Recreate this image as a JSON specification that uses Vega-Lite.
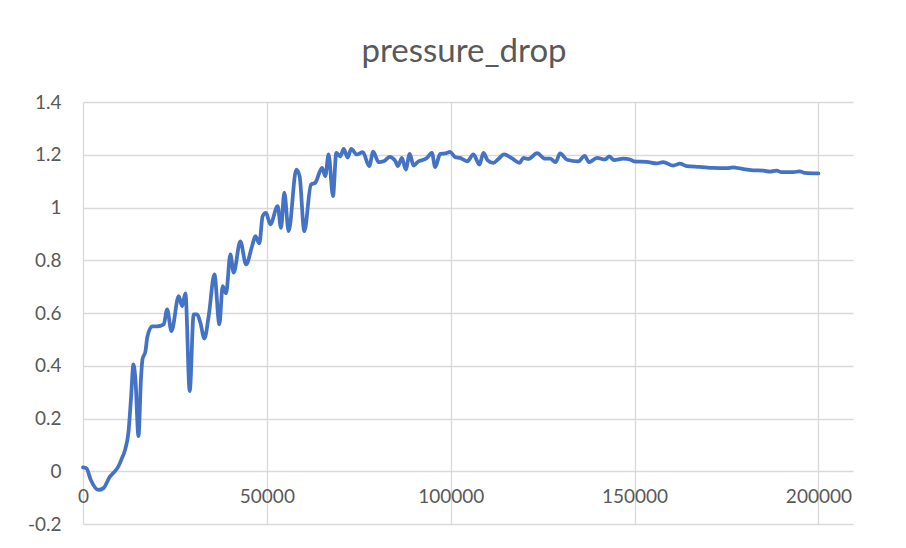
{
  "$schema": "https://vega.github.io/schema/vega-lite/v6.json",
  "width": 770,
  "height": 422,
  "autosize": {"type": "none"},
  "padding": {"left": 83, "top": 102, "right": 53, "bottom": 24},
  "background": "#ffffff",
  "title": {
    "text": "pressure_drop",
    "font": "Lato",
    "fontSize": 33,
    "fontWeight": "normal",
    "color": "#595959",
    "anchor": "middle",
    "frame": "group",
    "baseline": "alphabetic",
    "offset": -2,
    "dx": -4
  },
  "config": {
    "view": {"stroke": null},
    "axis": {
      "labelFont": "Lato",
      "labelFontSize": 19,
      "labelColor": "#595959",
      "gridColor": "#D9D9D9",
      "gridWidth": 1.3,
      "ticks": false,
      "domain": false,
      "title": null
    }
  },
  "data": {
    "values": [
      {"step": 0, "pressure_drop": 0.015},
      {"step": 950, "pressure_drop": 0.011},
      {"step": 2040, "pressure_drop": -0.03},
      {"step": 4210, "pressure_drop": -0.071},
      {"step": 5570, "pressure_drop": -0.064},
      {"step": 7390, "pressure_drop": -0.019},
      {"step": 8290, "pressure_drop": -0.006},
      {"step": 9650, "pressure_drop": 0.019},
      {"step": 10460, "pressure_drop": 0.045},
      {"step": 11470, "pressure_drop": 0.083},
      {"step": 12360, "pressure_drop": 0.148},
      {"step": 13040, "pressure_drop": 0.273},
      {"step": 13720, "pressure_drop": 0.405},
      {"step": 14260, "pressure_drop": 0.348},
      {"step": 15080, "pressure_drop": 0.133},
      {"step": 15760, "pressure_drop": 0.348},
      {"step": 16170, "pressure_drop": 0.424},
      {"step": 16980, "pressure_drop": 0.455},
      {"step": 17520, "pressure_drop": 0.511},
      {"step": 18800, "pressure_drop": 0.549},
      {"step": 20160, "pressure_drop": 0.549},
      {"step": 21950, "pressure_drop": 0.557},
      {"step": 22880, "pressure_drop": 0.614},
      {"step": 24050, "pressure_drop": 0.531},
      {"step": 26030, "pressure_drop": 0.664},
      {"step": 26950, "pressure_drop": 0.626},
      {"step": 27850, "pressure_drop": 0.674},
      {"step": 29020, "pressure_drop": 0.304},
      {"step": 30100, "pressure_drop": 0.595},
      {"step": 31030, "pressure_drop": 0.595},
      {"step": 31920, "pressure_drop": 0.563},
      {"step": 33010, "pressure_drop": 0.503},
      {"step": 34180, "pressure_drop": 0.588},
      {"step": 35730, "pressure_drop": 0.746},
      {"step": 37090, "pressure_drop": 0.557},
      {"step": 37980, "pressure_drop": 0.702},
      {"step": 38910, "pressure_drop": 0.674},
      {"step": 40080, "pressure_drop": 0.822},
      {"step": 40970, "pressure_drop": 0.753},
      {"step": 42790, "pressure_drop": 0.872},
      {"step": 44340, "pressure_drop": 0.784},
      {"step": 45970, "pressure_drop": 0.853},
      {"step": 46870, "pressure_drop": 0.891},
      {"step": 47960, "pressure_drop": 0.864},
      {"step": 48850, "pressure_drop": 0.967},
      {"step": 49780, "pressure_drop": 0.98},
      {"step": 50940, "pressure_drop": 0.936},
      {"step": 52930, "pressure_drop": 1.005},
      {"step": 53850, "pressure_drop": 0.923},
      {"step": 54750, "pressure_drop": 1.056},
      {"step": 55920, "pressure_drop": 0.91},
      {"step": 58010, "pressure_drop": 1.144},
      {"step": 58900, "pressure_drop": 1.119},
      {"step": 60180, "pressure_drop": 0.91},
      {"step": 62000, "pressure_drop": 1.087},
      {"step": 63170, "pressure_drop": 1.094},
      {"step": 64990, "pressure_drop": 1.15},
      {"step": 65890, "pressure_drop": 1.119},
      {"step": 66790, "pressure_drop": 1.201},
      {"step": 67980, "pressure_drop": 1.043},
      {"step": 68880, "pressure_drop": 1.207},
      {"step": 69960, "pressure_drop": 1.194},
      {"step": 70910, "pressure_drop": 1.222},
      {"step": 71950, "pressure_drop": 1.189},
      {"step": 72950, "pressure_drop": 1.222},
      {"step": 74450, "pressure_drop": 1.201},
      {"step": 76080, "pressure_drop": 1.21},
      {"step": 77840, "pressure_drop": 1.157},
      {"step": 78930, "pressure_drop": 1.212},
      {"step": 80370, "pressure_drop": 1.172},
      {"step": 81920, "pressure_drop": 1.176},
      {"step": 83360, "pressure_drop": 1.192},
      {"step": 84910, "pressure_drop": 1.177},
      {"step": 85640, "pressure_drop": 1.157},
      {"step": 86730, "pressure_drop": 1.188},
      {"step": 87760, "pressure_drop": 1.144},
      {"step": 88850, "pressure_drop": 1.203},
      {"step": 89880, "pressure_drop": 1.159},
      {"step": 91240, "pressure_drop": 1.175},
      {"step": 92160, "pressure_drop": 1.179},
      {"step": 93520, "pressure_drop": 1.188},
      {"step": 94880, "pressure_drop": 1.207},
      {"step": 95780, "pressure_drop": 1.153},
      {"step": 97130, "pressure_drop": 1.203},
      {"step": 98490, "pressure_drop": 1.205},
      {"step": 99850, "pressure_drop": 1.211},
      {"step": 101210, "pressure_drop": 1.191},
      {"step": 102570, "pressure_drop": 1.188},
      {"step": 104470, "pressure_drop": 1.175},
      {"step": 106180, "pressure_drop": 1.201},
      {"step": 107810, "pressure_drop": 1.163},
      {"step": 108900, "pressure_drop": 1.207},
      {"step": 110040, "pressure_drop": 1.179},
      {"step": 111620, "pressure_drop": 1.169},
      {"step": 112970, "pressure_drop": 1.184},
      {"step": 114520, "pressure_drop": 1.201},
      {"step": 116700, "pressure_drop": 1.186},
      {"step": 118730, "pressure_drop": 1.169},
      {"step": 119770, "pressure_drop": 1.188},
      {"step": 121120, "pressure_drop": 1.184},
      {"step": 123490, "pressure_drop": 1.206},
      {"step": 125660, "pressure_drop": 1.185},
      {"step": 127020, "pressure_drop": 1.185},
      {"step": 128520, "pressure_drop": 1.172},
      {"step": 129740, "pressure_drop": 1.205},
      {"step": 131640, "pressure_drop": 1.181},
      {"step": 134710, "pressure_drop": 1.175},
      {"step": 136400, "pressure_drop": 1.196},
      {"step": 137620, "pressure_drop": 1.172},
      {"step": 139790, "pressure_drop": 1.188},
      {"step": 141960, "pressure_drop": 1.182},
      {"step": 143130, "pressure_drop": 1.194},
      {"step": 144410, "pressure_drop": 1.18},
      {"step": 146930, "pressure_drop": 1.185},
      {"step": 148760, "pressure_drop": 1.182},
      {"step": 149840, "pressure_drop": 1.175},
      {"step": 153290, "pressure_drop": 1.173},
      {"step": 156010, "pressure_drop": 1.167},
      {"step": 157800, "pressure_drop": 1.172},
      {"step": 160520, "pressure_drop": 1.159},
      {"step": 162340, "pressure_drop": 1.166},
      {"step": 164160, "pressure_drop": 1.157},
      {"step": 167770, "pressure_drop": 1.154},
      {"step": 171390, "pressure_drop": 1.15},
      {"step": 175030, "pressure_drop": 1.149},
      {"step": 176820, "pressure_drop": 1.152},
      {"step": 178640, "pressure_drop": 1.148},
      {"step": 182260, "pressure_drop": 1.141},
      {"step": 184970, "pressure_drop": 1.14},
      {"step": 186790, "pressure_drop": 1.136},
      {"step": 188620, "pressure_drop": 1.14},
      {"step": 189970, "pressure_drop": 1.134},
      {"step": 193120, "pressure_drop": 1.134},
      {"step": 194940, "pressure_drop": 1.137},
      {"step": 196300, "pressure_drop": 1.131},
      {"step": 200000, "pressure_drop": 1.129}
    ]
  },
  "mark": {
    "type": "line",
    "color": "#4472C4",
    "strokeWidth": 3.75,
    "interpolate": "monotone",
    "strokeCap": "round",
    "strokeJoin": "round"
  },
  "encoding": {
    "x": {
      "field": "step",
      "type": "quantitative",
      "scale": {"domain": [0, 209400], "nice": false, "zero": false},
      "axis": {
        "values": [0, 50000, 100000, 150000, 200000],
        "format": "d",
        "grid": true,
        "offset": -52.8,
        "labelPadding": 16,
        "labelBaseline": "top",
        "labelAlign": "center",
        "labelFlush": false,
        "labelOverlap": false
      }
    },
    "y": {
      "field": "pressure_drop",
      "type": "quantitative",
      "scale": {"domain": [-0.2, 1.4], "nice": false, "zero": false},
      "axis": {
        "values": [-0.2, 0, 0.2, 0.4, 0.6, 0.8, 1, 1.2, 1.4],
        "labelExpr": "toString(round(datum.value * 10) / 10)",
        "grid": true,
        "labelPadding": 22,
        "labelFlush": false,
        "labelOverlap": false
      }
    }
  }
}
